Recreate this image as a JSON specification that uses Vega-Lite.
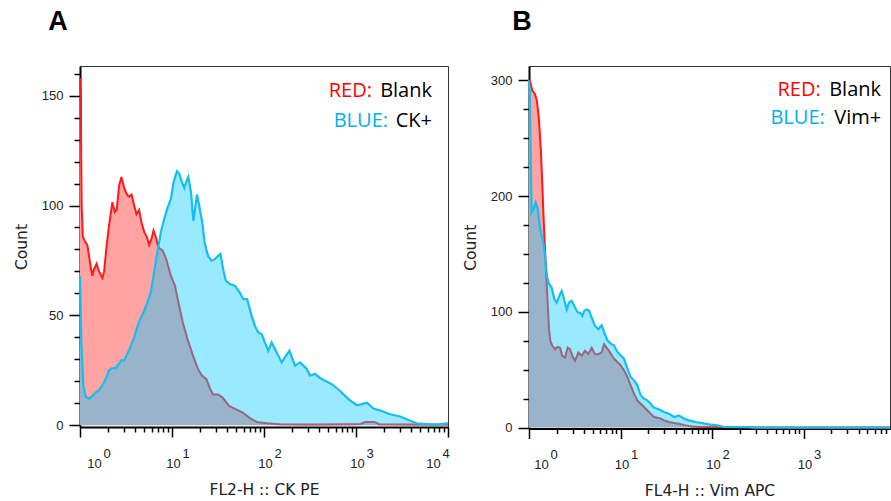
{
  "$schema": "https://vega.github.io/schema/vega-lite/v6.json",
  "padding": {"left": 13, "top": 7, "right": 0, "bottom": 0},
  "background": "white",
  "spacing": 9,
  "config": {
    "font": "DejaVu Sans",
    "view": {"stroke": "#333", "strokeWidth": 1},
    "axis": {"domainColor": "#000", "domainWidth": 2, "tickColor": "#000", "tickWidth": 1.5, "labelFont": "Liberation Sans", "labelFontSize": 13, "labelColor": "#222", "titleFont": "DejaVu Sans", "titleFontSize": 15.5, "titleFontWeight": "normal", "titleColor": "#222", "grid": false, "labelOverlap": false, "labelFlush": false, "labelBound": false, "titlePadding": 12},
    "axisX": {"labelLineHeight": 10, "labelBaseline": "top", "labelAlign": "center", "labelPadding": 10},
    "axisY": {"labelPadding": 6},
    "title": {"font": "Liberation Sans", "fontSize": 27, "fontWeight": "bold", "color": "#000", "anchor": "start", "baseline": "alphabetic"},
    "text": {"font": "Open Sans", "fontSize": 20, "align": "right", "baseline": "middle"}
  },
  "datasets": {
    "aBlank": [
      {"logFL":0,"count":158},{"logFL":0.008,"count":150},{"logFL":0.018,"count":100},{"logFL":0.03,"count":86},{"logFL":0.05,"count":84},{"logFL":0.08,"count":82},{"logFL":0.109,"count":74},{"logFL":0.134,"count":68},{"logFL":0.152,"count":71},{"logFL":0.181,"count":73.5},{"logFL":0.207,"count":70},{"logFL":0.243,"count":67},{"logFL":0.262,"count":70},{"logFL":0.29,"count":82},{"logFL":0.316,"count":91},{"logFL":0.352,"count":101.5},{"logFL":0.378,"count":97},{"logFL":0.399,"count":98},{"logFL":0.425,"count":109},{"logFL":0.45,"count":113},{"logFL":0.48,"count":108},{"logFL":0.509,"count":105},{"logFL":0.534,"count":104},{"logFL":0.56,"count":105},{"logFL":0.589,"count":100},{"logFL":0.614,"count":96},{"logFL":0.643,"count":98},{"logFL":0.669,"count":92},{"logFL":0.698,"count":88},{"logFL":0.727,"count":85.6},{"logFL":0.752,"count":82},{"logFL":0.778,"count":85},{"logFL":0.799,"count":88.6},{"logFL":0.825,"count":85.6},{"logFL":0.851,"count":81},{"logFL":0.898,"count":79.5},{"logFL":0.934,"count":76},{"logFL":0.988,"count":68},{"logFL":1.032,"count":63.6},{"logFL":1.061,"count":57.6},{"logFL":1.116,"count":47},{"logFL":1.17,"count":39},{"logFL":1.225,"count":32},{"logFL":1.279,"count":26},{"logFL":1.323,"count":22.7},{"logFL":1.374,"count":21},{"logFL":1.41,"count":17},{"logFL":1.446,"count":14},{"logFL":1.5,"count":14},{"logFL":1.55,"count":12.6},{"logFL":1.62,"count":8.8},{"logFL":1.69,"count":7.3},{"logFL":1.77,"count":5.8},{"logFL":1.84,"count":3.5},{"logFL":1.92,"count":1.5},{"logFL":2.03,"count":0.9},{"logFL":2.17,"count":0.4},{"logFL":2.5,"count":0.3},{"logFL":2.9,"count":0.5},{"logFL":3.05,"count":0.6},{"logFL":3.1,"count":1.5},{"logFL":3.2,"count":1.5},{"logFL":3.25,"count":0.5},{"logFL":3.6,"count":0.3},{"logFL":4,"count":0.3}
    ],
    "aCK": [
      {"logFL":0,"count":68},{"logFL":0.014,"count":38},{"logFL":0.036,"count":18},{"logFL":0.062,"count":13},{"logFL":0.098,"count":12},{"logFL":0.134,"count":13.3},{"logFL":0.171,"count":15},{"logFL":0.207,"count":16},{"logFL":0.243,"count":18},{"logFL":0.28,"count":21},{"logFL":0.316,"count":25},{"logFL":0.352,"count":26},{"logFL":0.389,"count":26},{"logFL":0.425,"count":28},{"logFL":0.45,"count":29.5},{"logFL":0.48,"count":29.5},{"logFL":0.516,"count":32.6},{"logFL":0.552,"count":36},{"logFL":0.589,"count":40},{"logFL":0.625,"count":45},{"logFL":0.661,"count":49},{"logFL":0.698,"count":52},{"logFL":0.734,"count":56},{"logFL":0.77,"count":60.6},{"logFL":0.807,"count":70},{"logFL":0.843,"count":79},{"logFL":0.879,"count":88},{"logFL":0.916,"count":94},{"logFL":0.952,"count":99},{"logFL":0.988,"count":103},{"logFL":1.017,"count":110.6},{"logFL":1.054,"count":115.6},{"logFL":1.079,"count":114.4},{"logFL":1.105,"count":111},{"logFL":1.134,"count":108},{"logFL":1.152,"count":110.6},{"logFL":1.177,"count":113},{"logFL":1.207,"count":106},{"logFL":1.232,"count":93},{"logFL":1.25,"count":98.5},{"logFL":1.272,"count":105},{"logFL":1.298,"count":99.5},{"logFL":1.33,"count":92},{"logFL":1.355,"count":83},{"logFL":1.392,"count":77},{"logFL":1.428,"count":74.9},{"logFL":1.465,"count":75.6},{"logFL":1.501,"count":77},{"logFL":1.527,"count":78},{"logFL":1.556,"count":71},{"logFL":1.585,"count":65.8},{"logFL":1.628,"count":64.3},{"logFL":1.683,"count":63.5},{"logFL":1.737,"count":60.4},{"logFL":1.774,"count":57.4},{"logFL":1.817,"count":57.4},{"logFL":1.865,"count":49.8},{"logFL":1.901,"count":45.3},{"logFL":1.937,"count":42.2},{"logFL":1.974,"count":41.5},{"logFL":2.046,"count":33.9},{"logFL":2.083,"count":37.7},{"logFL":2.192,"count":28.6},{"logFL":2.276,"count":33.9},{"logFL":2.338,"count":27.1},{"logFL":2.392,"count":28.6},{"logFL":2.465,"count":25.6},{"logFL":2.501,"count":22.6},{"logFL":2.556,"count":23.4},{"logFL":2.61,"count":21.5},{"logFL":2.664,"count":20.2},{"logFL":2.737,"count":18.7},{"logFL":2.828,"count":15.6},{"logFL":2.918,"count":11.9},{"logFL":3.01,"count":9.1},{"logFL":3.064,"count":9.6},{"logFL":3.119,"count":10.3},{"logFL":3.19,"count":7.6},{"logFL":3.28,"count":6.5},{"logFL":3.37,"count":5},{"logFL":3.48,"count":4},{"logFL":3.57,"count":2.4},{"logFL":3.66,"count":0.9},{"logFL":3.77,"count":0.5},{"logFL":3.88,"count":0.2},{"logFL":3.99,"count":0.9},{"logFL":4,"count":0.9}
    ],
    "bBlank": [
      {"logFL":0,"count":300},{"logFL":0.011,"count":300},{"logFL":0.036,"count":291},{"logFL":0.066,"count":288},{"logFL":0.087,"count":282},{"logFL":0.109,"count":266},{"logFL":0.131,"count":238},{"logFL":0.146,"count":209},{"logFL":0.16,"count":180},{"logFL":0.175,"count":154},{"logFL":0.189,"count":131},{"logFL":0.204,"count":108},{"logFL":0.219,"count":85},{"logFL":0.233,"count":75},{"logFL":0.255,"count":70.6},{"logFL":0.284,"count":67.7},{"logFL":0.31,"count":69.7},{"logFL":0.339,"count":69},{"logFL":0.364,"count":62},{"logFL":0.393,"count":60.5},{"logFL":0.423,"count":69},{"logFL":0.448,"count":67.7},{"logFL":0.474,"count":62},{"logFL":0.503,"count":57.6},{"logFL":0.539,"count":64.8},{"logFL":0.576,"count":62},{"logFL":0.612,"count":66.3},{"logFL":0.648,"count":63.4},{"logFL":0.685,"count":69},{"logFL":0.721,"count":63.4},{"logFL":0.758,"count":63.4},{"logFL":0.794,"count":65},{"logFL":0.82,"count":72},{"logFL":0.856,"count":68.2},{"logFL":0.893,"count":63.9},{"logFL":0.929,"count":59.5},{"logFL":0.966,"count":56.6},{"logFL":1.002,"count":53.7},{"logFL":1.038,"count":49.4},{"logFL":1.075,"count":43.7},{"logFL":1.111,"count":36.5},{"logFL":1.148,"count":29.3},{"logFL":1.184,"count":23.5},{"logFL":1.22,"count":20.6},{"logFL":1.257,"count":17.7},{"logFL":1.293,"count":14.9},{"logFL":1.33,"count":12},{"logFL":1.366,"count":9.1},{"logFL":1.403,"count":8.5},{"logFL":1.439,"count":7.7},{"logFL":1.475,"count":6.2},{"logFL":1.53,"count":4.8},{"logFL":1.585,"count":3.9},{"logFL":1.639,"count":3.3},{"logFL":1.712,"count":1.9},{"logFL":1.784,"count":1},{"logFL":1.857,"count":0.5},{"logFL":2.0,"count":0.4},{"logFL":2.4,"count":0.3},{"logFL":2.5,"count":0},{"logFL":3.945,"count":0}
    ],
    "bVim": [
      {"logFL":0,"count":300},{"logFL":0.008,"count":290},{"logFL":0.015,"count":252},{"logFL":0.029,"count":186},{"logFL":0.051,"count":189},{"logFL":0.073,"count":194.5},{"logFL":0.095,"count":189},{"logFL":0.117,"count":174},{"logFL":0.138,"count":166},{"logFL":0.157,"count":160},{"logFL":0.175,"count":148},{"logFL":0.197,"count":130},{"logFL":0.219,"count":124},{"logFL":0.248,"count":121},{"logFL":0.277,"count":111},{"logFL":0.302,"count":108},{"logFL":0.332,"count":114},{"logFL":0.357,"count":118},{"logFL":0.383,"count":111},{"logFL":0.412,"count":102},{"logFL":0.437,"count":108},{"logFL":0.466,"count":109.5},{"logFL":0.495,"count":105},{"logFL":0.532,"count":99.4},{"logFL":0.557,"count":99.4},{"logFL":0.583,"count":96.5},{"logFL":0.605,"count":101},{"logFL":0.63,"count":102},{"logFL":0.656,"count":101},{"logFL":0.685,"count":95},{"logFL":0.721,"count":88},{"logFL":0.758,"count":85},{"logFL":0.794,"count":88.4},{"logFL":0.82,"count":82.6},{"logFL":0.856,"count":75.4},{"logFL":0.893,"count":72.5},{"logFL":0.929,"count":71.1},{"logFL":0.966,"count":65.3},{"logFL":1.002,"count":62.4},{"logFL":1.038,"count":59.5},{"logFL":1.075,"count":50.9},{"logFL":1.111,"count":43.7},{"logFL":1.148,"count":40.8},{"logFL":1.184,"count":36.5},{"logFL":1.22,"count":27.9},{"logFL":1.257,"count":25},{"logFL":1.293,"count":23.5},{"logFL":1.33,"count":20.6},{"logFL":1.366,"count":17.2},{"logFL":1.403,"count":16.3},{"logFL":1.439,"count":14.9},{"logFL":1.475,"count":13.4},{"logFL":1.53,"count":12},{"logFL":1.585,"count":9.1},{"logFL":1.639,"count":10.5},{"logFL":1.694,"count":7.7},{"logFL":1.748,"count":6.2},{"logFL":1.821,"count":4.8},{"logFL":1.894,"count":3.9},{"logFL":1.967,"count":2.8},{"logFL":2.058,"count":1.9},{"logFL":2.131,"count":0.5},{"logFL":2.4,"count":0.4},{"logFL":2.45,"count":0},{"logFL":3.945,"count":0}
    ]
  },
  "hconcat": [
    {
      "width": 368,
      "height": 361,
      "title": {"text": "A", "dx": 34, "offset": 30.5},
      "layer": [
        {"data": {"name": "aBlank"}, "mark": {"type": "area", "fill": "#FFA3A3", "fillOpacity": 1, "opacity": 1, "interpolate": "linear", "line": {"stroke": "#FF1A1A", "strokeWidth": 2}},
          "encoding": {
            "x": {"field": "logFL", "type": "quantitative", "scale": {"domain": [0, 4], "nice": false, "zero": false},
              "axis": {"title": "FL2-H :: CK PE", "labelOverlap": false, "values": [0,0.30103,0.47712,0.60206,0.69897,0.77815,0.8451,0.90309,0.95424,1,1.30103,1.47712,1.60206,1.69897,1.77815,1.8451,1.90309,1.95424,2,2.30103,2.47712,2.60206,2.69897,2.77815,2.8451,2.90309,2.95424,3,3.30103,3.47712,3.60206,3.69897,3.77815,3.8451,3.90309,3.95424,4],
                "labelExpr": "datum.value % 1 === 0 ? ['\u200b\u00a0\u00a0\u00a0\u00a0\u00a0\u00a0\u00a0' + datum.value, '10'] : ''",
                "labelOffset": {"condition": [{"test": "datum.value === 0", "value": 14}, {"test": "datum.value === 4", "value": -15}], "value": 1},
                "tickSize": {"condition": {"test": "datum.value % 1 !== 0", "value": 5}, "value": 10}}},
            "y": {"field": "count", "type": "quantitative", "scale": {"domain": [-0.8, 163.5], "nice": false, "zero": false},
              "axis": {"title": "Count", "labelOverlap": false, "values": [0,10,20,30,40,50,60,70,80,90,100,110,120,130,140,150,160],
                "labelExpr": "datum.value % 50 === 0 ? datum.label : ''",
                "tickSize": {"condition": {"test": "datum.value % 50 !== 0", "value": 6}, "value": 11}}}
          }},
        {"data": {"name": "aCK"}, "mark": {"type": "area", "fill": "#12CCFF", "fillOpacity": 0.43, "interpolate": "linear", "line": {"stroke": "#14BEF0", "strokeWidth": 2.2}},
          "encoding": {
            "x": {"field": "logFL", "type": "quantitative",
              "axis": {"title": "FL2-H :: CK PE", "labelOverlap": false, "values": [0,0.30103,0.47712,0.60206,0.69897,0.77815,0.8451,0.90309,0.95424,1,1.30103,1.47712,1.60206,1.69897,1.77815,1.8451,1.90309,1.95424,2,2.30103,2.47712,2.60206,2.69897,2.77815,2.8451,2.90309,2.95424,3,3.30103,3.47712,3.60206,3.69897,3.77815,3.8451,3.90309,3.95424,4],
                "labelExpr": "datum.value % 1 === 0 ? ['\u200b\u00a0\u00a0\u00a0\u00a0\u00a0\u00a0\u00a0' + datum.value, '10'] : ''",
                "labelOffset": {"condition": [{"test": "datum.value === 0", "value": 14}, {"test": "datum.value === 4", "value": -15}], "value": 1},
                "tickSize": {"condition": {"test": "datum.value % 1 !== 0", "value": 5}, "value": 10}}},
            "y": {"field": "count", "type": "quantitative",
              "axis": {"title": "Count", "labelOverlap": false, "values": [0,10,20,30,40,50,60,70,80,90,100,110,120,130,140,150,160],
                "labelExpr": "datum.value % 50 === 0 ? datum.label : ''",
                "tickSize": {"condition": {"test": "datum.value % 50 !== 0", "value": 6}, "value": 11}}}
          }},
        {"data": {"values": [{"legend": "RED:"}]}, "mark": {"type": "text", "fill": "#FF0000"},
          "encoding": {"text": {"field": "legend", "type": "nominal"},
            "x": {"datum": 3.174, "type": "quantitative", "axis": {"title": "FL2-H :: CK PE", "labelOverlap": false, "values": [0,0.30103,0.47712,0.60206,0.69897,0.77815,0.8451,0.90309,0.95424,1,1.30103,1.47712,1.60206,1.69897,1.77815,1.8451,1.90309,1.95424,2,2.30103,2.47712,2.60206,2.69897,2.77815,2.8451,2.90309,2.95424,3,3.30103,3.47712,3.60206,3.69897,3.77815,3.8451,3.90309,3.95424,4],
                "labelExpr": "datum.value % 1 === 0 ? ['\u200b\u00a0\u00a0\u00a0\u00a0\u00a0\u00a0\u00a0' + datum.value, '10'] : ''",
                "labelOffset": {"condition": [{"test": "datum.value === 0", "value": 14}, {"test": "datum.value === 4", "value": -15}], "value": 1},
                "tickSize": {"condition": {"test": "datum.value % 1 !== 0", "value": 5}, "value": 10}}},
            "y": {"datum": 152, "type": "quantitative", "axis": {"title": "Count", "labelOverlap": false, "values": [0,10,20,30,40,50,60,70,80,90,100,110,120,130,140,150,160],
                "labelExpr": "datum.value % 50 === 0 ? datum.label : ''",
                "tickSize": {"condition": {"test": "datum.value % 50 !== 0", "value": 6}, "value": 11}}}}},
        {"data": {"values": [{"legend": "Blank"}]}, "mark": {"type": "text", "fill": "#000000"},
          "encoding": {"text": {"field": "legend", "type": "nominal"},
            "x": {"datum": 3.826, "type": "quantitative", "axis": {"title": "FL2-H :: CK PE", "labelOverlap": false, "values": [0,0.30103,0.47712,0.60206,0.69897,0.77815,0.8451,0.90309,0.95424,1,1.30103,1.47712,1.60206,1.69897,1.77815,1.8451,1.90309,1.95424,2,2.30103,2.47712,2.60206,2.69897,2.77815,2.8451,2.90309,2.95424,3,3.30103,3.47712,3.60206,3.69897,3.77815,3.8451,3.90309,3.95424,4],
                "labelExpr": "datum.value % 1 === 0 ? ['\u200b\u00a0\u00a0\u00a0\u00a0\u00a0\u00a0\u00a0' + datum.value, '10'] : ''",
                "labelOffset": {"condition": [{"test": "datum.value === 0", "value": 14}, {"test": "datum.value === 4", "value": -15}], "value": 1},
                "tickSize": {"condition": {"test": "datum.value % 1 !== 0", "value": 5}, "value": 10}}},
            "y": {"datum": 152, "type": "quantitative", "axis": {"title": "Count", "labelOverlap": false, "values": [0,10,20,30,40,50,60,70,80,90,100,110,120,130,140,150,160],
                "labelExpr": "datum.value % 50 === 0 ? datum.label : ''",
                "tickSize": {"condition": {"test": "datum.value % 50 !== 0", "value": 6}, "value": 11}}}}},
        {"data": {"values": [{"legend": "BLUE:"}]}, "mark": {"type": "text", "fill": "#00B0F0"},
          "encoding": {"text": {"field": "legend", "type": "nominal"},
            "x": {"datum": 3.348, "type": "quantitative", "axis": {"title": "FL2-H :: CK PE", "labelOverlap": false, "values": [0,0.30103,0.47712,0.60206,0.69897,0.77815,0.8451,0.90309,0.95424,1,1.30103,1.47712,1.60206,1.69897,1.77815,1.8451,1.90309,1.95424,2,2.30103,2.47712,2.60206,2.69897,2.77815,2.8451,2.90309,2.95424,3,3.30103,3.47712,3.60206,3.69897,3.77815,3.8451,3.90309,3.95424,4],
                "labelExpr": "datum.value % 1 === 0 ? ['\u200b\u00a0\u00a0\u00a0\u00a0\u00a0\u00a0\u00a0' + datum.value, '10'] : ''",
                "labelOffset": {"condition": [{"test": "datum.value === 0", "value": 14}, {"test": "datum.value === 4", "value": -15}], "value": 1},
                "tickSize": {"condition": {"test": "datum.value % 1 !== 0", "value": 5}, "value": 10}}},
            "y": {"datum": 138.6, "type": "quantitative", "axis": {"title": "Count", "labelOverlap": false, "values": [0,10,20,30,40,50,60,70,80,90,100,110,120,130,140,150,160],
                "labelExpr": "datum.value % 50 === 0 ? datum.label : ''",
                "tickSize": {"condition": {"test": "datum.value % 50 !== 0", "value": 6}, "value": 11}}}}},
        {"data": {"values": [{"legend": "CK+"}]}, "mark": {"type": "text", "fill": "#000000"},
          "encoding": {"text": {"field": "legend", "type": "nominal"},
            "x": {"datum": 3.826, "type": "quantitative", "axis": {"title": "FL2-H :: CK PE", "labelOverlap": false, "values": [0,0.30103,0.47712,0.60206,0.69897,0.77815,0.8451,0.90309,0.95424,1,1.30103,1.47712,1.60206,1.69897,1.77815,1.8451,1.90309,1.95424,2,2.30103,2.47712,2.60206,2.69897,2.77815,2.8451,2.90309,2.95424,3,3.30103,3.47712,3.60206,3.69897,3.77815,3.8451,3.90309,3.95424,4],
                "labelExpr": "datum.value % 1 === 0 ? ['\u200b\u00a0\u00a0\u00a0\u00a0\u00a0\u00a0\u00a0' + datum.value, '10'] : ''",
                "labelOffset": {"condition": [{"test": "datum.value === 0", "value": 14}, {"test": "datum.value === 4", "value": -15}], "value": 1},
                "tickSize": {"condition": {"test": "datum.value % 1 !== 0", "value": 5}, "value": 10}}},
            "y": {"datum": 138.6, "type": "quantitative", "axis": {"title": "Count", "labelOverlap": false, "values": [0,10,20,30,40,50,60,70,80,90,100,110,120,130,140,150,160],
                "labelExpr": "datum.value % 50 === 0 ? datum.label : ''",
                "tickSize": {"condition": {"test": "datum.value % 50 !== 0", "value": 6}, "value": 11}}}}}
      ]
    },
    {
      "width": 361,
      "height": 362.5,
      "title": {"text": "B", "dx": 49, "offset": 30.5},
      "layer": [
        {"data": {"name": "bBlank"}, "mark": {"type": "area", "fill": "#FFA3A3", "fillOpacity": 1, "opacity": 1, "interpolate": "linear", "line": {"stroke": "#FF1A1A", "strokeWidth": 2}},
          "encoding": {
            "x": {"field": "logFL", "type": "quantitative", "scale": {"domain": [0, 3.945], "nice": false, "zero": false},
              "axis": {"title": "FL4-H :: Vim APC", "labelOverlap": false, "values": [0,0.30103,0.47712,0.60206,0.69897,0.77815,0.8451,0.90309,0.95424,1,1.30103,1.47712,1.60206,1.69897,1.77815,1.8451,1.90309,1.95424,2,2.30103,2.47712,2.60206,2.69897,2.77815,2.8451,2.90309,2.95424,3,3.30103,3.47712,3.60206,3.69897,3.77815,3.8451,3.90309],
                "labelExpr": "datum.value % 1 === 0 ? ['\u200b\u00a0\u00a0\u00a0\u00a0\u00a0\u00a0\u00a0' + datum.value, '10'] : ''",
                "labelOffset": {"condition": {"test": "datum.value === 0", "value": 12}, "value": 1},
                "tickSize": {"condition": {"test": "datum.value % 1 !== 0", "value": 5}, "value": 10}}},
            "y": {"field": "count", "type": "quantitative", "scale": {"domain": [-0.8, 312.3], "nice": false, "zero": false},
              "axis": {"title": "Count", "labelOverlap": false, "values": [0,25,50,75,100,125,150,175,200,225,250,275,300],
                "labelExpr": "datum.value % 100 === 0 ? datum.label : ''",
                "tickSize": {"condition": {"test": "datum.value % 100 !== 0", "value": 6}, "value": 11}}}
          }},
        {"data": {"name": "bVim"}, "mark": {"type": "area", "fill": "#12CCFF", "fillOpacity": 0.43, "interpolate": "linear", "line": {"stroke": "#14BEF0", "strokeWidth": 2.2}},
          "encoding": {
            "x": {"field": "logFL", "type": "quantitative",
              "axis": {"title": "FL4-H :: Vim APC", "labelOverlap": false, "values": [0,0.30103,0.47712,0.60206,0.69897,0.77815,0.8451,0.90309,0.95424,1,1.30103,1.47712,1.60206,1.69897,1.77815,1.8451,1.90309,1.95424,2,2.30103,2.47712,2.60206,2.69897,2.77815,2.8451,2.90309,2.95424,3,3.30103,3.47712,3.60206,3.69897,3.77815,3.8451,3.90309],
                "labelExpr": "datum.value % 1 === 0 ? ['\u200b\u00a0\u00a0\u00a0\u00a0\u00a0\u00a0\u00a0' + datum.value, '10'] : ''",
                "labelOffset": {"condition": {"test": "datum.value === 0", "value": 12}, "value": 1},
                "tickSize": {"condition": {"test": "datum.value % 1 !== 0", "value": 5}, "value": 10}}},
            "y": {"field": "count", "type": "quantitative",
              "axis": {"title": "Count", "labelOverlap": false, "values": [0,25,50,75,100,125,150,175,200,225,250,275,300],
                "labelExpr": "datum.value % 100 === 0 ? datum.label : ''",
                "tickSize": {"condition": {"test": "datum.value % 100 !== 0", "value": 6}, "value": 11}}}
          }},
        {"data": {"values": [{"legend": "RED:"}]}, "mark": {"type": "text", "fill": "#FF0000"},
          "encoding": {"text": {"field": "legend", "type": "nominal"},
            "x": {"datum": 3.188, "type": "quantitative", "axis": {"title": "FL4-H :: Vim APC", "labelOverlap": false, "values": [0,0.30103,0.47712,0.60206,0.69897,0.77815,0.8451,0.90309,0.95424,1,1.30103,1.47712,1.60206,1.69897,1.77815,1.8451,1.90309,1.95424,2,2.30103,2.47712,2.60206,2.69897,2.77815,2.8451,2.90309,2.95424,3,3.30103,3.47712,3.60206,3.69897,3.77815,3.8451,3.90309],
                "labelExpr": "datum.value % 1 === 0 ? ['\u200b\u00a0\u00a0\u00a0\u00a0\u00a0\u00a0\u00a0' + datum.value, '10'] : ''",
                "labelOffset": {"condition": {"test": "datum.value === 0", "value": 12}, "value": 1},
                "tickSize": {"condition": {"test": "datum.value % 1 !== 0", "value": 5}, "value": 10}}},
            "y": {"datum": 291.7, "type": "quantitative", "axis": {"title": "Count", "labelOverlap": false, "values": [0,25,50,75,100,125,150,175,200,225,250,275,300],
                "labelExpr": "datum.value % 100 === 0 ? datum.label : ''",
                "tickSize": {"condition": {"test": "datum.value % 100 !== 0", "value": 6}, "value": 11}}}}},
        {"data": {"values": [{"legend": "Blank"}]}, "mark": {"type": "text", "fill": "#000000"},
          "encoding": {"text": {"field": "legend", "type": "nominal"},
            "x": {"datum": 3.847, "type": "quantitative", "axis": {"title": "FL4-H :: Vim APC", "labelOverlap": false, "values": [0,0.30103,0.47712,0.60206,0.69897,0.77815,0.8451,0.90309,0.95424,1,1.30103,1.47712,1.60206,1.69897,1.77815,1.8451,1.90309,1.95424,2,2.30103,2.47712,2.60206,2.69897,2.77815,2.8451,2.90309,2.95424,3,3.30103,3.47712,3.60206,3.69897,3.77815,3.8451,3.90309],
                "labelExpr": "datum.value % 1 === 0 ? ['\u200b\u00a0\u00a0\u00a0\u00a0\u00a0\u00a0\u00a0' + datum.value, '10'] : ''",
                "labelOffset": {"condition": {"test": "datum.value === 0", "value": 12}, "value": 1},
                "tickSize": {"condition": {"test": "datum.value % 1 !== 0", "value": 5}, "value": 10}}},
            "y": {"datum": 291.7, "type": "quantitative", "axis": {"title": "Count", "labelOverlap": false, "values": [0,25,50,75,100,125,150,175,200,225,250,275,300],
                "labelExpr": "datum.value % 100 === 0 ? datum.label : ''",
                "tickSize": {"condition": {"test": "datum.value % 100 !== 0", "value": 6}, "value": 11}}}}},
        {"data": {"values": [{"legend": "BLUE:"}]}, "mark": {"type": "text", "fill": "#00B0F0"},
          "encoding": {"text": {"field": "legend", "type": "nominal"},
            "x": {"datum": 3.232, "type": "quantitative", "axis": {"title": "FL4-H :: Vim APC", "labelOverlap": false, "values": [0,0.30103,0.47712,0.60206,0.69897,0.77815,0.8451,0.90309,0.95424,1,1.30103,1.47712,1.60206,1.69897,1.77815,1.8451,1.90309,1.95424,2,2.30103,2.47712,2.60206,2.69897,2.77815,2.8451,2.90309,2.95424,3,3.30103,3.47712,3.60206,3.69897,3.77815,3.8451,3.90309],
                "labelExpr": "datum.value % 1 === 0 ? ['\u200b\u00a0\u00a0\u00a0\u00a0\u00a0\u00a0\u00a0' + datum.value, '10'] : ''",
                "labelOffset": {"condition": {"test": "datum.value === 0", "value": 12}, "value": 1},
                "tickSize": {"condition": {"test": "datum.value % 1 !== 0", "value": 5}, "value": 10}}},
            "y": {"datum": 267, "type": "quantitative", "axis": {"title": "Count", "labelOverlap": false, "values": [0,25,50,75,100,125,150,175,200,225,250,275,300],
                "labelExpr": "datum.value % 100 === 0 ? datum.label : ''",
                "tickSize": {"condition": {"test": "datum.value % 100 !== 0", "value": 6}, "value": 11}}}}},
        {"data": {"values": [{"legend": "Vim+"}]}, "mark": {"type": "text", "fill": "#000000"},
          "encoding": {"text": {"field": "legend", "type": "nominal"},
            "x": {"datum": 3.85, "type": "quantitative", "axis": {"title": "FL4-H :: Vim APC", "labelOverlap": false, "values": [0,0.30103,0.47712,0.60206,0.69897,0.77815,0.8451,0.90309,0.95424,1,1.30103,1.47712,1.60206,1.69897,1.77815,1.8451,1.90309,1.95424,2,2.30103,2.47712,2.60206,2.69897,2.77815,2.8451,2.90309,2.95424,3,3.30103,3.47712,3.60206,3.69897,3.77815,3.8451,3.90309],
                "labelExpr": "datum.value % 1 === 0 ? ['\u200b\u00a0\u00a0\u00a0\u00a0\u00a0\u00a0\u00a0' + datum.value, '10'] : ''",
                "labelOffset": {"condition": {"test": "datum.value === 0", "value": 12}, "value": 1},
                "tickSize": {"condition": {"test": "datum.value % 1 !== 0", "value": 5}, "value": 10}}},
            "y": {"datum": 267, "type": "quantitative", "axis": {"title": "Count", "labelOverlap": false, "values": [0,25,50,75,100,125,150,175,200,225,250,275,300],
                "labelExpr": "datum.value % 100 === 0 ? datum.label : ''",
                "tickSize": {"condition": {"test": "datum.value % 100 !== 0", "value": 6}, "value": 11}}}}}
      ]
    }
  ]
}
